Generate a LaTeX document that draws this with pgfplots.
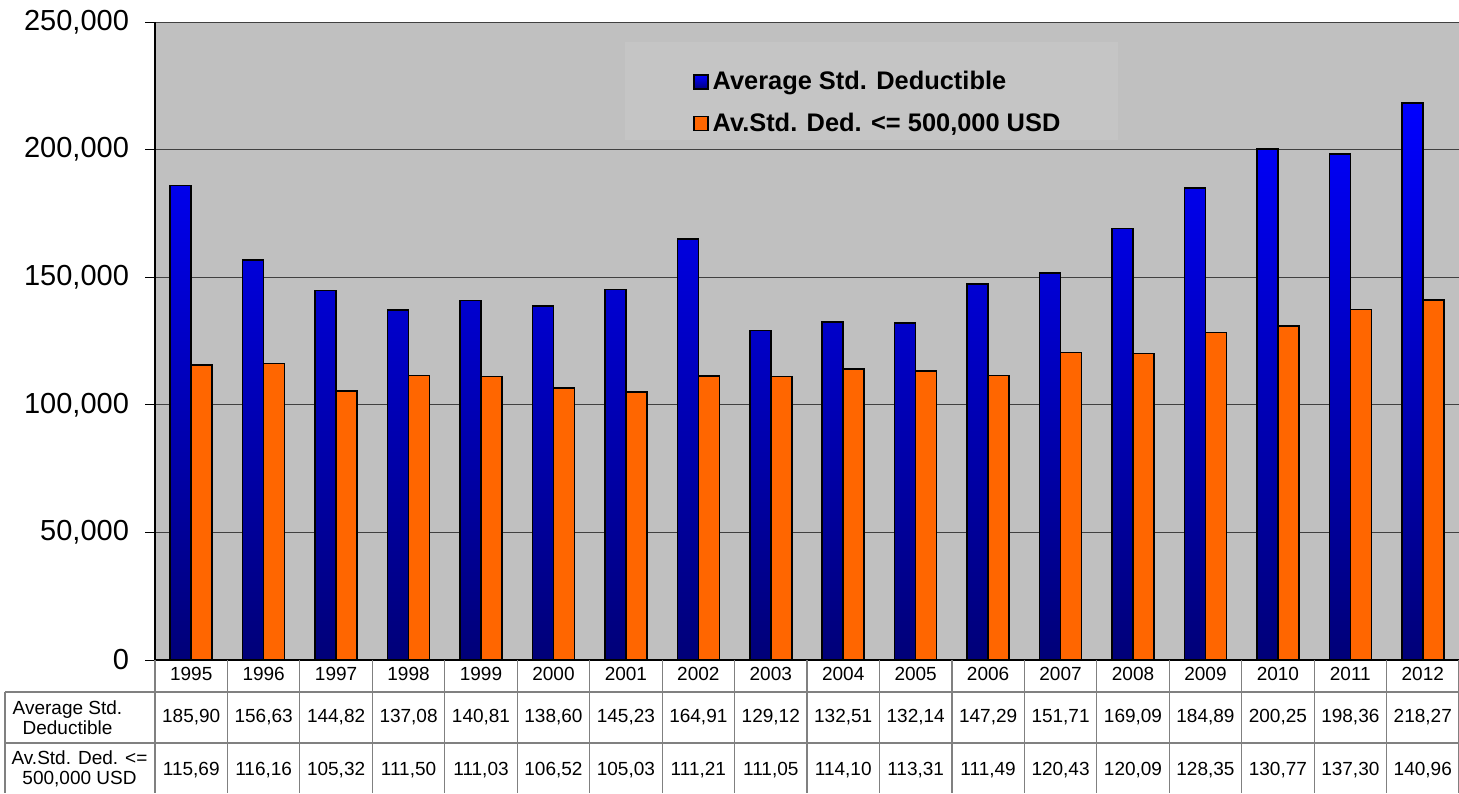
\documentclass[border=0pt]{standalone}
\usepackage{pgfplots}
\pgfplotsset{compat=1.18}
\usepackage{pgfplotstable}
\usepackage{fontspec}
\setmainfont{Liberation Sans}
\definecolor{bg}{RGB}{192,192,192}
\definecolor{legbg}{RGB}{197,197,197}
\definecolor{topblue}{RGB}{0,0,255}
\definecolor{botblue}{RGB}{0,0,120}
\definecolor{orng}{RGB}{255,102,0}
\definecolor{tblgray}{RGB}{128,128,128}
\definecolor{gridc}{RGB}{64,64,64}

\pgfplotstableread{
year avg cap
1995 185.90 115.69
1996 156.63 116.16
1997 144.82 105.32
1998 137.08 111.50
1999 140.81 111.03
2000 138.60 106.52
2001 145.23 105.03
2002 164.91 111.21
2003 129.12 111.05
2004 132.51 114.10
2005 132.14 113.31
2006 147.29 111.49
2007 151.71 120.43
2008 169.09 120.09
2009 184.89 128.35
2010 200.25 130.77
2011 198.36 137.30
2012 218.27 140.96
}\data

\begin{document}
\begin{tikzpicture}
\begin{axis}[
  width=652pt, height=319pt, scale only axis,
  xmin=-0.5, xmax=17.5, ymin=0, ymax=250000,
  axis background/.style={fill=bg},
  axis lines=left,
  axis line style={-, line width=0.8pt, black},
  ybar=0pt, bar width=10.5pt,
  xtick=data, xticklabels from table={\data}{year},
  x tick style={draw=none},
  xticklabel style={font=\fontsize{9.5}{11}\selectfont, anchor=center, yshift=-2pt},
  ytick={0,50000,100000,150000,200000,250000},
  scaled y ticks=false,
  tick align=outside, major tick length=5pt,
  y tick style={black, line width=0.5pt},
  yticklabel style={font=\fontsize{14.5}{16}\selectfont, xshift=-4.5pt,
     /pgf/number format/.cd, fixed, 1000 sep={,}, assume math mode=true},
  ymajorgrids, major grid style={gridc, line width=0.5pt},
  legend image code/.code={\draw[#1, line width=0.8pt] (0pt,-3.5pt) rectangle (7pt,3.5pt);},
  legend cell align=left,
  legend style={at={(rel axis cs:0.4126,0.8731)}, anchor=west, draw=none, fill=none,
     inner sep=0pt, outer sep=0pt, row sep=6pt,
     font=\bfseries\fontsize{12.7}{14}\selectfont},
]
\coordinate (O) at (rel axis cs:0,0);
\coordinate (T) at (rel axis cs:1,1);
\fill[legbg] (rel axis cs:0.3604,0.8150) rectangle (rel axis cs:0.7385,0.9687);
\addplot[draw=black, line width=0.8pt, top color=topblue, bottom color=botblue]
  table[x expr=\coordindex, y expr=\thisrow{avg}*1000]{\data};
\addlegendentry{Average Std. Deductible}
\addplot[draw=black, line width=0.8pt, fill=orng]
  table[x expr=\coordindex, y expr=\thisrow{cap}*1000]{\data};
\addlegendentry{Av.Std. Ded. <= 500,000 USD}
\end{axis}

% data table below the chart
\foreach \k in {0,...,18}
  \draw[tblgray, line width=0.6pt] ([xshift=\k*36.22222pt]O) -- ++(0,-66.5pt);
\draw[tblgray, line width=0.6pt] ([xshift=-75pt,yshift=-16pt]O) -- ++(727pt,0);
\draw[tblgray, line width=0.6pt] ([xshift=-75pt,yshift=-41.5pt]O) -- ++(727pt,0);
\draw[tblgray, line width=0.6pt] ([xshift=-75pt,yshift=-16pt]O) -- ++(0,-50.5pt);
\node[font=\fontsize{9.5}{10}\selectfont, align=center] at ([xshift=-43.75pt,yshift=-28.75pt]O) {Average Std.\\Deductible};
\node[font=\fontsize{9.5}{10}\selectfont, align=center] at ([xshift=-37.75pt,yshift=-54.5pt]O) {Av.Std. Ded. <=\\500,000 USD};
\foreach \i in {0,...,17}{
  \pgfplotstablegetelem{\i}{avg}\of\data
  \node[font=\fontsize{9.5}{10}\selectfont] at ([xshift={(\i+0.5)*36.22222pt}, yshift=-28.75pt]O)
    {\pgfmathprintnumber[fixed,fixed zerofill,precision=2,use comma,assume math mode=true]{\pgfplotsretval}};
  \pgfplotstablegetelem{\i}{cap}\of\data
  \node[font=\fontsize{9.5}{10}\selectfont] at ([xshift={(\i+0.5)*36.22222pt}, yshift=-55pt]O)
    {\pgfmathprintnumber[fixed,fixed zerofill,precision=2,use comma,assume math mode=true]{\pgfplotsretval}};
}
\pgfresetboundingbox
\path ([xshift=-77.5pt, yshift=-66.5pt]O) rectangle ([yshift=11pt]T);
\end{tikzpicture}
\end{document}
